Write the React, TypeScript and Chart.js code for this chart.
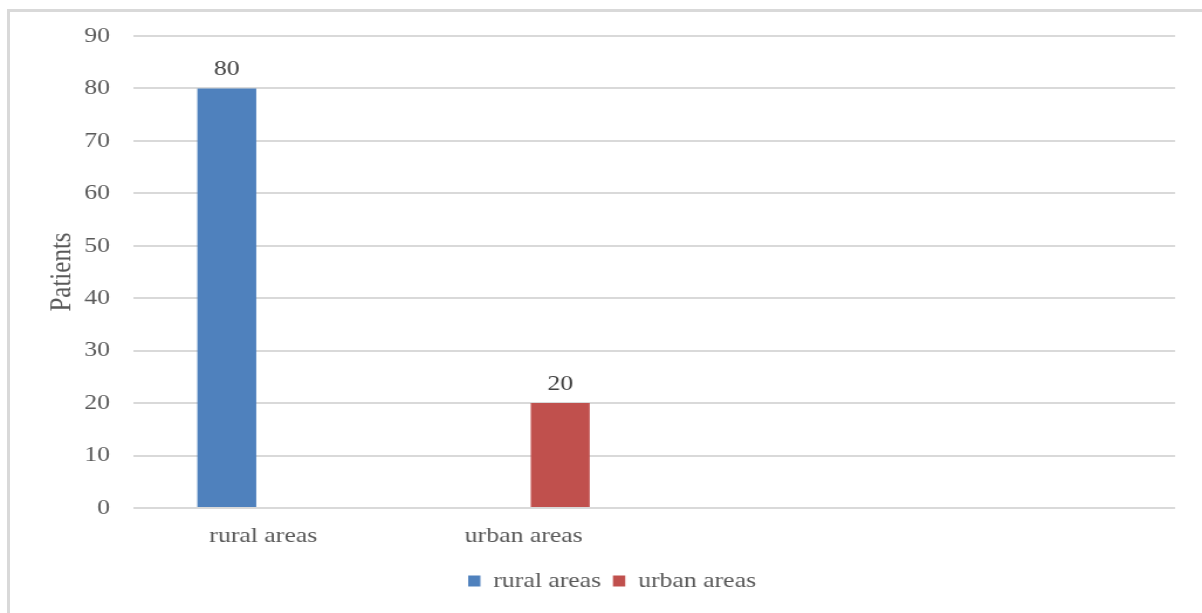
import { useEffect, useRef } from "react";
import { Chart, registerables } from "chart.js";

Chart.register(...registerables);

// ---- data ----
const categories = ["rural areas", "urban areas", "", ""];
const seriesNames = ["rural areas", "urban areas"];
const ruralPatients: (number | null)[] = [80, null, null, null];
const urbanPatients: (number | null)[] = [null, 20, null, null];
const yMin = 0;
const yMax = 90;
const yStep = 10;
const yTitle = "Patients";

// ---- look ----
const STAGE_W = 1202;
const STAGE_H = 613;
const STRETCH = 1.17; // the chart is drawn narrower and widened with CSS
const CANVAS_W = Math.round(STAGE_W / STRETCH);
const SX = STAGE_W / CANVAS_W;
const FONT = '"Liberation Serif", "Times New Roman", serif';
const TEXT = "#595959";
const GRID = "#d9d9d9";
const BLUE = "#4F81BD";
const RED = "#C0504D";

// plot frame in page pixels
const PLOT_LEFT = 133;
const PLOT_RIGHT = 1175;
const PLOT_TOP = 36;

const valueLabels = {
  id: "valueLabels",
  afterDatasetsDraw(chart: any) {
    const ctx = chart.ctx;
    ctx.save();
    ctx.font = `22px ${FONT}`;
    ctx.fillStyle = "#404040";
    ctx.textAlign = "center";
    ctx.textBaseline = "alphabetic";
    chart.data.datasets.forEach((ds: any, i: number) => {
      const meta = chart.getDatasetMeta(i);
      meta.data.forEach((el: any, j: number) => {
        const v = ds.data[j];
        if (v === null || v === undefined) return;
        ctx.fillText(String(v), el.x, el.y - 13);
      });
    });
    ctx.restore();
  },
};

const legendShift = {
  id: "legendShift",
  afterLayout(chart: any) {
    const lg = chart.legend;
    if (lg) {
      lg.left += 21;
      lg.right += 21;
    }
  },
};

export default function App() {
  const canvasRef = useRef<HTMLCanvasElement | null>(null);

  useEffect(() => {
    if (!canvasRef.current) return;
    const chart = new Chart(canvasRef.current, {
      type: "bar",
      data: {
        labels: categories,
        datasets: [
          {
            label: seriesNames[0],
            data: ruralPatients,
            backgroundColor: BLUE,
            borderWidth: 0,
            categoryPercentage: 0.56,
            barPercentage: 0.808,
          },
          {
            label: seriesNames[1],
            data: urbanPatients,
            backgroundColor: RED,
            borderWidth: 0,
            categoryPercentage: 0.56,
            barPercentage: 0.808,
          },
        ],
      },
      plugins: [valueLabels, legendShift],
      options: {
        animation: false,
        responsive: true,
        maintainAspectRatio: false,
        devicePixelRatio: 1,
        events: [],
        layout: {
          padding: {
            top: PLOT_TOP,
            left: 0,
            right: CANVAS_W - PLOT_RIGHT / SX,
            bottom: 11,
          },
        },
        plugins: {
          tooltip: { enabled: false },
          title: { display: false },
          legend: {
            display: true,
            position: "bottom",
            labels: {
              boxWidth: 10.5,
              boxHeight: 11,
              padding: 10,
              color: TEXT,
              font: { family: FONT, size: 22 },
            },
          },
        },
        scales: {
          x: {
            grid: { display: false, drawTicks: false },
            border: { display: false },
            ticks: {
              color: TEXT,
              padding: 15,
              maxRotation: 0,
              autoSkip: false,
              font: { family: FONT, size: 22 },
            },
            afterFit(scale: any) {
              scale.height = 52;
              scale.paddingLeft = 0;
              scale.paddingRight = 0;
            },
          },
          y: {
            min: yMin,
            max: yMax,
            grid: { color: GRID, lineWidth: 2, drawTicks: false },
            border: { display: false },
            ticks: {
              stepSize: yStep,
              color: TEXT,
              padding: 23 / SX,
              font: { family: FONT, size: 22 },
            },
            title: {
              display: true,
              text: yTitle,
              color: TEXT,
              font: { family: FONT, size: 25 },
              padding: { top: 38, bottom: 0 },
            },
            afterFit(scale: any) {
              scale.width = PLOT_LEFT / SX;
              scale.paddingTop = 0;
              scale.paddingBottom = 0;
            },
          },
        },
      },
    } as any);
    return () => chart.destroy();
  }, []);

  return (
    <div
      style={{
        position: "absolute",
        left: 0,
        top: 0,
        width: STAGE_W,
        height: STAGE_H,
        overflow: "hidden",
        background: "#ffffff",
      }}
    >
      <div
        style={{
          position: "absolute",
          left: 7,
          top: 9,
          width: STAGE_W + 50,
          height: STAGE_H + 50,
          borderLeft: `3px solid ${GRID}`,
          borderTop: `3px solid ${GRID}`,
        }}
      />
      <div
        style={{
          position: "absolute",
          left: 0,
          top: 0,
          width: CANVAS_W,
          height: STAGE_H,
          transform: `scaleX(${SX})`,
          transformOrigin: "0 0",
        }}
      >
        <canvas ref={canvasRef} style={{ display: "block" }} />
      </div>
    </div>
  );
}
